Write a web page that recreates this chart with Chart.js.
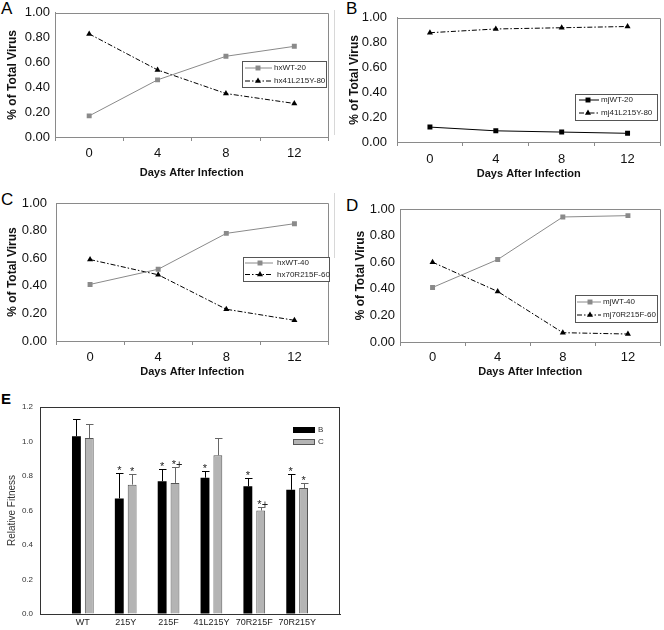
<!DOCTYPE html>
<html><head><meta charset="utf-8">
<script src="https://cdn.jsdelivr.net/npm/chart.js@4/dist/chart.umd.min.js"></script>
<style>
body{margin:0;background:#fff;width:664px;height:630px;position:relative;overflow:hidden;font-family:'Liberation Sans',Arial,sans-serif}
canvas{position:absolute}
.lt{position:absolute;line-height:1;color:#000;font-family:'Liberation Sans',Arial,sans-serif}
.edge{position:absolute;width:1px;background:#d8d8d8}
</style></head><body>
<div class="lt" style="left:1px;top:0px;font-size:17px">A</div>
<div class="lt" style="left:346px;top:0px;font-size:17px">B</div>
<div class="lt" style="left:1px;top:191px;font-size:17px">C</div>
<div class="lt" style="left:346px;top:197px;font-size:17px">D</div>
<div class="lt" style="left:1px;top:391px;font-size:15px;font-weight:bold">E</div>
<div class="edge" style="left:334px;top:10px;height:125px"></div>
<div class="edge" style="left:334px;top:193px;height:65px"></div>
<canvas id="cA"></canvas><canvas id="cB"></canvas><canvas id="cC"></canvas><canvas id="cD"></canvas><canvas id="cE"></canvas>
<script>
// ---------- data ----------
const days = ['0', '4', '8', '12'];
const hxWT20 = [0.17, 0.46, 0.65, 0.73];
const hx41L215Y80 = [0.83, 0.54, 0.35, 0.27];
const mjWT20 = [0.12, 0.09, 0.08, 0.07];
const mj41L215Y80 = [0.88, 0.91, 0.92, 0.93];
const hxWT40 = [0.41, 0.52, 0.78, 0.85];
const hx70R215F60 = [0.59, 0.48, 0.23, 0.15];
const mjWT40 = [0.41, 0.62, 0.94, 0.95];
const mj70R215F60 = [0.60, 0.38, 0.07, 0.06];

const mutants = ['WT', '215Y', '215F', '41L215Y', '70R215F', '70R215Y'];
const fitnessB = [1.03, 0.67, 0.77, 0.79, 0.74, 0.72];
const fitnessC = [1.02, 0.75, 0.76, 0.92, 0.60, 0.73];
const sdB = [0.10, 0.15, 0.07, 0.04, 0.05, 0.09];
const sdC = [0.08, 0.06, 0.09, 0.10, 0.02, 0.03];
const markB = ['', '*', '*', '*', '*', '*'];
const markC = ['', '*', '*+', '', '*+', '*'];

// ---------- styles ----------
const FONT = "'Liberation Sans', Arial, sans-serif";
const GRAY = '#8a8a8a';
const sGray = {borderColor: GRAY, backgroundColor: GRAY, pointStyle: 'rect', borderDash: []};
const sBlackSolid = {borderColor: '#000', backgroundColor: '#000', pointStyle: 'rect', borderDash: []};
const sDashDot = {borderColor: '#000', backgroundColor: '#000', pointStyle: 'triangle', borderDash: [5, 2, 1.5, 2]};

Chart.defaults.font.family = FONT;
Chart.defaults.devicePixelRatio = 1;

function setupCanvas(id, x, y, w, h) {
  const c = document.getElementById(id);
  c.width = w; c.height = h;
  c.style.left = x + 'px'; c.style.top = y + 'px';
  c.style.width = w + 'px'; c.style.height = h + 'px';
  return c;
}

function marker(ctx, style, x, y, r) {
  ctx.fillStyle = style.backgroundColor;
  ctx.beginPath();
  if (style.pointStyle === 'rect') {
    const s = r * Math.SQRT1_2;
    ctx.rect(x - s, y - s, 2 * s, 2 * s);
  } else {
    ctx.moveTo(x, y - r);
    ctx.lineTo(x + r * Math.sin(2 * Math.PI / 3), y - r * Math.cos(2 * Math.PI / 3));
    ctx.lineTo(x + r * Math.sin(4 * Math.PI / 3), y - r * Math.cos(4 * Math.PI / 3));
    ctx.closePath();
  }
  ctx.fill();
}

function linePanel(id, p) {
  const c = setupCanvas(id, p.x, p.y, p.w, p.h);
  const legendPlugin = {
    id: 'boxAndLegend',
    afterDraw(chart) {
      const ctx = chart.ctx, a = chart.chartArea;
      ctx.save();
      ctx.strokeStyle = '#8a8a8a'; ctx.lineWidth = 1;
      ctx.beginPath();
      ctx.moveTo(a.left, Math.round(a.top) + 0.5);
      ctx.lineTo(Math.round(a.right) - 0.5, Math.round(a.top) + 0.5);
      ctx.lineTo(Math.round(a.right) - 0.5, a.bottom);
      ctx.stroke();
      // legend
      const L = p.legend;
      const bx = L.box[0] - p.x, by = L.box[1] - p.y, bw = L.box[2] - L.box[0], bh = L.box[3] - L.box[1];
      ctx.fillStyle = '#fff';
      ctx.fillRect(bx, by, bw, bh);
      ctx.strokeStyle = '#555';
      ctx.strokeRect(Math.round(bx) + 0.5, Math.round(by) + 0.5, bw, bh);
      chart.data.datasets.forEach((ds, i) => {
        const yy = L.rows[i] - p.y;
        ctx.strokeStyle = ds.borderColor;
        ctx.setLineDash(ds.borderDash || []);
        ctx.beginPath();
        ctx.moveTo(L.line[0] - p.x, yy); ctx.lineTo(L.line[1] - p.x, yy);
        ctx.stroke();
        ctx.setLineDash([]);
        marker(ctx, ds, L.mark - p.x, yy, 3.5);
        ctx.fillStyle = '#222';
        ctx.font = L.font + 'px ' + FONT;
        ctx.textBaseline = 'middle';
        ctx.textAlign = 'left';
        ctx.fillText(ds.label, L.text - p.x, yy);
      });
      ctx.restore();
    }
  };
  return new Chart(c, {
    type: 'line',
    data: {
      labels: days,
      datasets: p.series.map(s => Object.assign({
        label: s.label, data: s.data, borderWidth: 1, pointRadius: 3.5, pointHoverRadius: 3.5,
        pointBorderWidth: 0, tension: 0, fill: false
      }, s.style, {pointBackgroundColor: s.style.backgroundColor, pointBorderColor: s.style.borderColor}))
    },
    options: {
      responsive: false, animation: false,
      layout: {padding: {top: p.area.t - p.y, right: p.x + p.w - p.area.r, left: 0, bottom: 0}},
      plugins: {legend: {display: false}, tooltip: {enabled: false}},
      scales: {
        x: {
          type: 'category', offset: true,
          grid: {display: true, drawOnChartArea: false, drawTicks: true, tickLength: 4, offset: true, color: '#8a8a8a'},
          border: {color: '#8a8a8a'},
          ticks: {padding: p.xLabelC - p.area.b - 4 - 7.8, font: {size: 13}, color: '#111', maxRotation: 0},
          title: {display: true, text: 'Days After Infection', font: {size: 11, weight: 'bold'}, color: '#111', padding: 0},
          afterFit(s) { s.height = p.y + p.h - p.area.b; }
        },
        y: {
          min: 0, max: 1,
          grid: {display: true, drawOnChartArea: false, drawTicks: false},
          border: {color: '#8a8a8a'},
          ticks: {stepSize: 0.2, padding: p.area.l - p.yLabelR, font: {size: 13}, color: '#111', callback: v => Number(v).toFixed(2)},
          title: {display: true, text: '% of Total Virus', font: {size: 12, weight: 'bold'}, color: '#111', padding: {top: p.yTitleX - p.x - 7.2, bottom: 0}},
          afterFit(s) { s.width = p.area.l - p.x; }
        }
      }
    },
    plugins: [legendPlugin]
  });
}

linePanel('cA', {
  x: 0, y: 0, w: 332, h: 180, area: {l: 55, r: 331, t: 11, b: 137}, yLabelR: 50, yTitleX: 13, xLabelC: 153,
  series: [{label: 'hxWT-20', data: hxWT20, style: sGray}, {label: 'hx41L215Y-80', data: hx41L215Y80, style: sDashDot}],
  legend: {box: [242, 61, 326, 87], rows: [68, 81], line: [245, 272], mark: 258, text: 274, font: 8}
});
linePanel('cB', {
  x: 332, y: 0, w: 332, h: 181, area: {l: 397, r: 663, t: 11, b: 142}, yLabelR: 387, yTitleX: 355, xLabelC: 159.5,
  series: [{label: 'mjWT-20', data: mjWT20, style: sBlackSolid}, {label: 'mj41L215Y-80', data: mj41L215Y80, style: sDashDot}],
  legend: {box: [575, 94, 657, 120], rows: [100, 113], line: [579, 599], mark: 588, text: 601, font: 8}
});
linePanel('cC', {
  x: 0, y: 185, w: 332, h: 194, area: {l: 56, r: 331, t: 203, b: 341}, yLabelR: 47, yTitleX: 13, xLabelC: 357,
  series: [{label: 'hxWT-40', data: hxWT40, style: sGray}, {label: 'hx70R215F-60', data: hx70R215F60, style: sDashDot}],
  legend: {box: [243, 257, 329, 281], rows: [263, 274.5], line: [245, 273], mark: 260, text: 277, font: 8}
});
linePanel('cD', {
  x: 332, y: 185, w: 332, h: 194, area: {l: 400, r: 662, t: 209, b: 342}, yLabelR: 395, yTitleX: 361, xLabelC: 357.5,
  series: [{label: 'mjWT-40', data: mjWT40, style: sGray}, {label: 'mj70R215F-60', data: mj70R215F60, style: sDashDot}],
  legend: {box: [575, 295, 657, 322], rows: [302, 315], line: [577, 601], mark: 590, text: 603, font: 8}
});

// ---------- panel E ----------
(function () {
  const P = {x: 0, y: 395, w: 420, h: 235, area: {l: 40, r: 340, t: 407, b: 614}};
  const c = setupCanvas('cE', P.x, P.y, P.w, P.h);
  const sds = [sdB, sdC];
  const marks = [markB, markC];
  const errPlugin = {
    id: 'errbars',
    afterDatasetsDraw(chart) {
      const ctx = chart.ctx, ys = chart.scales.y, a = chart.chartArea;
      ctx.save();
      [0, 1].forEach(di => {
        const meta = chart.getDatasetMeta(di);
        const vals = chart.data.datasets[di].data;
        ctx.strokeStyle = di === 0 ? '#000' : '#666';
        ctx.lineWidth = 1;
        for (let i = 1; i <= mutants.length; i++) {
          const el = meta.data[i];
          const v = vals[i];
          if (v == null) continue;
          const top = ys.getPixelForValue(v + sds[di][i - 1]);
          const x = Math.round(el.x) + 0.5;
          ctx.beginPath();
          ctx.moveTo(x, el.y); ctx.lineTo(x, Math.round(top) + 0.5);
          ctx.moveTo(x - 3.5, Math.round(top) + 0.5); ctx.lineTo(x + 4, Math.round(top) + 0.5);
          ctx.stroke();
          const m = marks[di][i - 1];
          if (m) {
            ctx.fillStyle = '#222';
            ctx.font = '11px ' + FONT;
            ctx.textAlign = 'center';
            ctx.textBaseline = 'alphabetic';
            ctx.fillText(m, el.x + (m.length > 1 ? 2 : 0), top + 1);
          }
        }
      });
      // box
      ctx.strokeStyle = '#333';
      ctx.strokeRect(Math.round(a.left) + 0.5, Math.round(a.top) + 0.5, Math.round(a.right - a.left) - 1, Math.round(a.bottom - a.top));
      // legend
      const lx = 293 - P.x;
      ctx.fillStyle = '#000';
      ctx.fillRect(lx, 427 - P.y, 22, 6);
      ctx.fillStyle = '#b4b4b4';
      ctx.fillRect(lx, 439 - P.y, 22, 6);
      ctx.strokeStyle = '#555';
      ctx.strokeRect(lx + 0.5, 439 - P.y + 0.5, 21, 5);
      ctx.fillStyle = '#333';
      ctx.font = '8px ' + FONT;
      ctx.textAlign = 'left'; ctx.textBaseline = 'middle';
      ctx.fillText(chart.data.datasets[0].label, 318, 430 - P.y);
      ctx.fillText(chart.data.datasets[1].label, 318, 442 - P.y);
      ctx.restore();
    }
  };
  new Chart(c, {
    type: 'bar',
    data: {
      labels: ['', ...mutants, ''],
      datasets: [
        {label: 'B', data: [null, ...fitnessB, null], backgroundColor: '#000', borderColor: '#000', borderWidth: 0},
        {label: 'C', data: [null, ...fitnessC, null], backgroundColor: '#b4b4b4', borderColor: '#555', borderWidth: 1}
      ]
    },
    options: {
      responsive: false, animation: false,
      categoryPercentage: 0.6, barPercentage: 0.69,
      layout: {padding: {top: P.area.t - P.y, right: P.x + P.w - P.area.r, left: 0, bottom: 0}},
      plugins: {legend: {display: false}, tooltip: {enabled: false}},
      scales: {
        x: {
          offset: false,
          grid: {display: false, drawTicks: false},
          border: {color: '#333'},
          ticks: {padding: 3, font: {size: 9}, color: '#222', autoSkip: false, maxRotation: 0},
          afterFit(s) { s.height = P.y + P.h - P.area.b; }
        },
        y: {
          min: 0, max: 1.2,
          grid: {display: true, drawOnChartArea: false, drawTicks: false},
          border: {color: '#333'},
          ticks: {stepSize: 0.2, padding: 7, font: {size: 8}, color: '#333', callback: v => Number(v).toFixed(1)},
          title: {display: true, text: 'Relative Fitness', font: {size: 10}, color: '#333', padding: {top: 6, bottom: 0}},
          afterFit(s) { s.width = P.area.l - P.x; }
        }
      }
    },
    plugins: [errPlugin]
  });
})();
</script>
</body></html>
